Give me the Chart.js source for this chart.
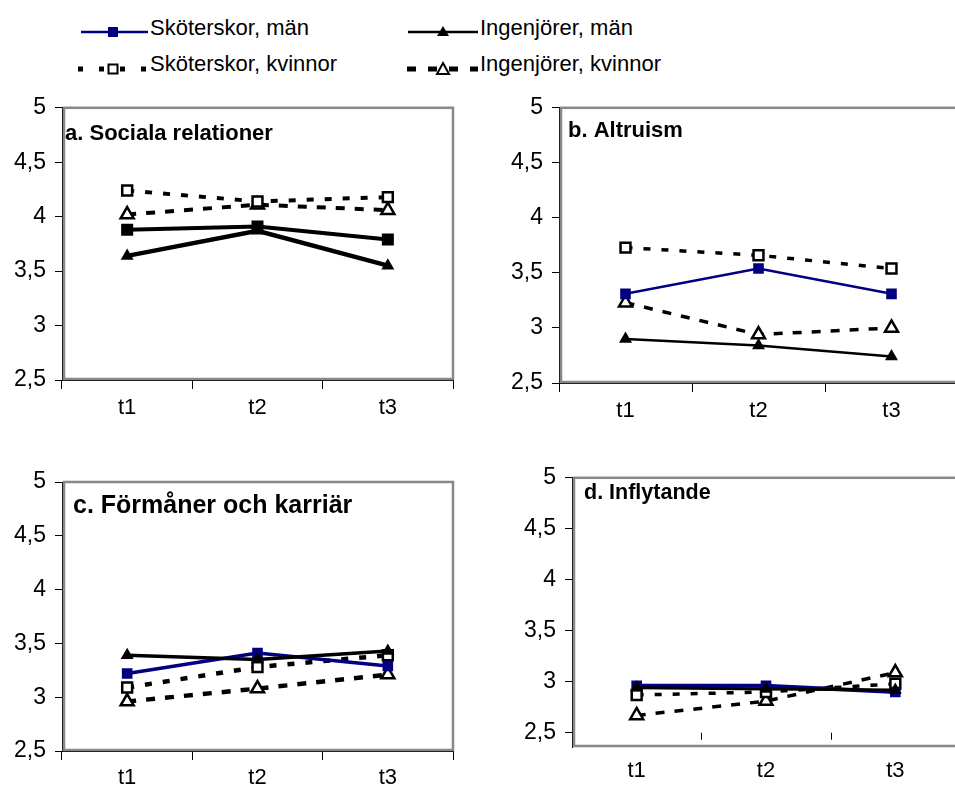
<!DOCTYPE html>
<html>
<head>
<meta charset="utf-8">
<script src="https://cdn.jsdelivr.net/npm/chart.js@4/dist/chart.umd.min.js"></script>
<style>
  body { margin: 0; width: 955px; height: 788px; overflow: hidden; background: #fff; position: relative;
         font-family: "Liberation Sans", Arial, sans-serif; }
  canvas { position: absolute; }
  .lg { position: absolute; font-size: 22px; color: #000; white-space: nowrap; line-height: 22px; }
  svg { position: absolute; overflow: visible; }
</style>
</head>
<body>

<!-- legend -->
<svg style="left:0;top:0" width="500" height="80">
  <line x1="81" y1="32" x2="148" y2="32" stroke="#000080" stroke-width="2.5"/>
  <rect x="108" y="27" width="10" height="10" fill="#000080"/>
  <line x1="408" y1="32" x2="478" y2="32" stroke="#000" stroke-width="2.5"/>
  <polygon points="443,26 449,36 437,36" fill="#000"/>
  <line x1="78" y1="69" x2="148" y2="69" stroke="#000" stroke-width="5" stroke-dasharray="5,16"/>
  <rect x="108.5" y="64.5" width="9" height="9" fill="#fff" stroke="#000" stroke-width="2"/>
  <line x1="407" y1="69" x2="478" y2="69" stroke="#000" stroke-width="5" stroke-dasharray="9,12"/>
  <polygon points="443,63 449,74 437,74" fill="#fff" stroke="#000" stroke-width="2"/>
</svg>
<div class="lg" style="left:150px;top:17px">Sköterskor, män</div>
<div class="lg" style="left:480px;top:17px">Ingenjörer, män</div>
<div class="lg" style="left:150px;top:53px">Sköterskor, kvinnor</div>
<div class="lg" style="left:480px;top:53px">Ingenjörer, kvinnor</div>

<canvas id="chartA" width="480" height="350" style="left:0;top:85px"></canvas>
<canvas id="chartB" width="490" height="350" style="left:480px;top:85px"></canvas>
<canvas id="chartC" width="480" height="345" style="left:0;top:455px"></canvas>
<canvas id="chartD" width="490" height="345" style="left:480px;top:455px"></canvas>

<script>
var categories = ['t1', 't2', 't3'];
var seriesNames = ['Sköterskor, män', 'Ingenjörer, män', 'Sköterskor, kvinnor', 'Ingenjörer, kvinnor'];
var yTicks = [2.5, 3, 3.5, 4, 4.5, 5];

// a. Sociala relationer
var aSkotMan = [3.88, 3.91, 3.79];
var aIngMan = [3.64, 3.87, 3.55];
var aSkotKv = [4.24, 4.14, 4.18];
var aIngKv = [4.02, 4.11, 4.06];

// b. Altruism
var bSkotMan = [3.31, 3.54, 3.31];
var bIngMan = [2.90, 2.84, 2.74];
var bSkotKv = [3.73, 3.66, 3.54];
var bIngKv = [3.23, 2.94, 3.00];

// c. Förmåner och karriär
var cSkotMan = [3.22, 3.41, 3.29];
var cIngMan = [3.39, 3.35, 3.43];
var cSkotKv = [3.09, 3.28, 3.39];
var cIngKv = [2.96, 3.08, 3.21];

// d. Inflytande
var dSkotMan = [2.96, 2.96, 2.90];
var dIngMan = [2.94, 2.93, 2.92];
var dSkotKv = [2.87, 2.90, 2.98];
var dIngKv = [2.67, 2.81, 3.09];

var navy = '#000080';
var FONT = '"Liberation Sans", Arial, sans-serif';

// gray plot frame + panel title
var panelPlugin = {
  id: 'panel',
  beforeDatasetsDraw: function (chart, args, opts) {
    var a = chart.chartArea, ctx = chart.ctx;
    ctx.save();
    ctx.strokeStyle = '#888';
    ctx.lineWidth = 2.5;
    ctx.strokeRect(a.left + 2, a.top, a.right - a.left - 2, a.bottom - a.top - 1);
    // d has short category ticks sitting inside the frame
    if (opts.innerTicks) {
      var x = chart.scales.x, y0 = chart.scales.y.getPixelForValue(2.5);
      ctx.strokeStyle = '#000';
      ctx.lineWidth = 1;
      [1, 2].forEach(function (i) {
        var px = Math.round((x.getPixelForValue(i - 1) + x.getPixelForValue(i)) / 2) + 0.5;
        ctx.beginPath();
        ctx.moveTo(px, y0);
        ctx.lineTo(px, y0 + 7);
        ctx.stroke();
      });
    }
    ctx.restore();
  },
  afterDraw: function (chart, args, opts) {
    var ctx = chart.ctx;
    ctx.save();
    ctx.fillStyle = '#000';
    ctx.font = 'bold ' + opts.size + 'px ' + FONT;
    ctx.textBaseline = 'alphabetic';
    ctx.fillText(opts.text, opts.x, opts.y);
    ctx.restore();
  }
};

function makePanel(id, data, p) {
  var ds = [
    { label: seriesNames[0], data: data[0], borderColor: p.c0, backgroundColor: p.c0, borderWidth: p.w0,
      pointStyle: 'rect', pointRadius: p.sq, pointBorderWidth: 0, order: 1 },
    { label: seriesNames[1], data: data[1], borderColor: '#000', backgroundColor: '#000', borderWidth: p.w1,
      pointStyle: 'triangle', pointRadius: 7.5, pointBorderWidth: 0, order: 0 },
    { label: seriesNames[2], data: data[2], borderColor: '#000', backgroundColor: '#fff', borderWidth: p.wd,
      borderDash: [7, 11], pointStyle: 'rect', pointRadius: 7, pointBorderWidth: 2.5,
      pointBorderColor: '#000', pointBackgroundColor: '#fff', order: 2 },
    { label: seriesNames[3], data: data[3], borderColor: '#000', backgroundColor: '#fff', borderWidth: p.wd,
      borderDash: [9, 10], pointStyle: 'triangle', pointRadius: 7.5, pointBorderWidth: 2.5,
      pointBorderColor: '#000', pointBackgroundColor: '#fff', order: 3 }
  ];
  var canvas = document.getElementById(id);
  return new Chart(canvas, {
    type: 'line',
    data: { labels: categories, datasets: ds },
    plugins: [panelPlugin],
    options: {
      responsive: false,
      animation: false,
      layout: { padding: { left: 0, top: p.top, right: canvas.width - p.right, bottom: 0 } },
      plugins: {
        legend: { display: false },
        tooltip: { enabled: false },
        panel: p.title
      },
      elements: { line: { tension: 0, borderCapStyle: 'butt' } },
      scales: {
        x: {
          type: 'category',
          offset: true,
          afterFit: function (s) { s.height = canvas.height - p.bottom; },
          grid: { display: p.xTicks, drawOnChartArea: false, offset: true, tickLength: 9, color: '#000', lineWidth: 1 },
          border: { display: p.xTicks, color: '#000', width: 1 },
          ticks: { color: '#000', font: { family: FONT, size: 22 }, padding: p.xPad, maxRotation: 0 }
        },
        y: {
          min: p.ymin, max: 5,
          afterFit: function (s) { s.width = p.left; },
          afterBuildTicks: function (s) { s.ticks = yTicks.map(function (v) { return { value: v }; }); },
          grid: { drawOnChartArea: false, tickLength: 7, color: '#000', lineWidth: 1 },
          border: { color: '#000', width: 1 },
          ticks: {
            color: '#000', font: { family: FONT, size: 23 }, padding: 9,
            callback: function (v) { return String(v).replace('.', ','); }
          }
        }
      }
    }
  });
}

makePanel('chartA', [aSkotMan, aIngMan, aSkotKv, aIngKv], {
  c0: '#000', w0: 4, w1: 4.5, wd: 4, sq: 8.5, ymin: 2.5, xTicks: true, xPad: 6,
  left: 62, top: 20, right: 453, bottom: 295,
  title: { text: 'a. Sociala relationer', x: 65, y: 55, size: 22 }
});
makePanel('chartB', [bSkotMan, bIngMan, bSkotKv, bIngKv], {
  c0: navy, w0: 2.5, w1: 2.5, wd: 3.5, sq: 7.5, ymin: 2.5, xTicks: true, xPad: 6,
  left: 79, top: 21, right: 478, bottom: 298,
  title: { text: 'b. Altruism', x: 88, y: 52, size: 22 }
});
makePanel('chartC', [cSkotMan, cIngMan, cSkotKv, cIngKv], {
  c0: navy, w0: 3.5, w1: 3.5, wd: 4.5, sq: 7.5, ymin: 2.5, xTicks: true, xPad: 5,
  left: 62, top: 27, right: 453, bottom: 296,
  title: { text: 'c. Förmåner och karriär', x: 73, y: 58, size: 25 }
});
makePanel('chartD', [dSkotMan, dIngMan, dSkotKv, dIngKv], {
  c0: navy, w0: 4, w1: 3, wd: 3.5, sq: 7.5, ymin: 2.36, xTicks: false, xPad: 2,
  left: 92, top: 22, right: 483, bottom: 292,
  title: { text: 'd. Inflytande', x: 104, y: 44, size: 21.5, innerTicks: true }
});
</script>
</body>
</html>
